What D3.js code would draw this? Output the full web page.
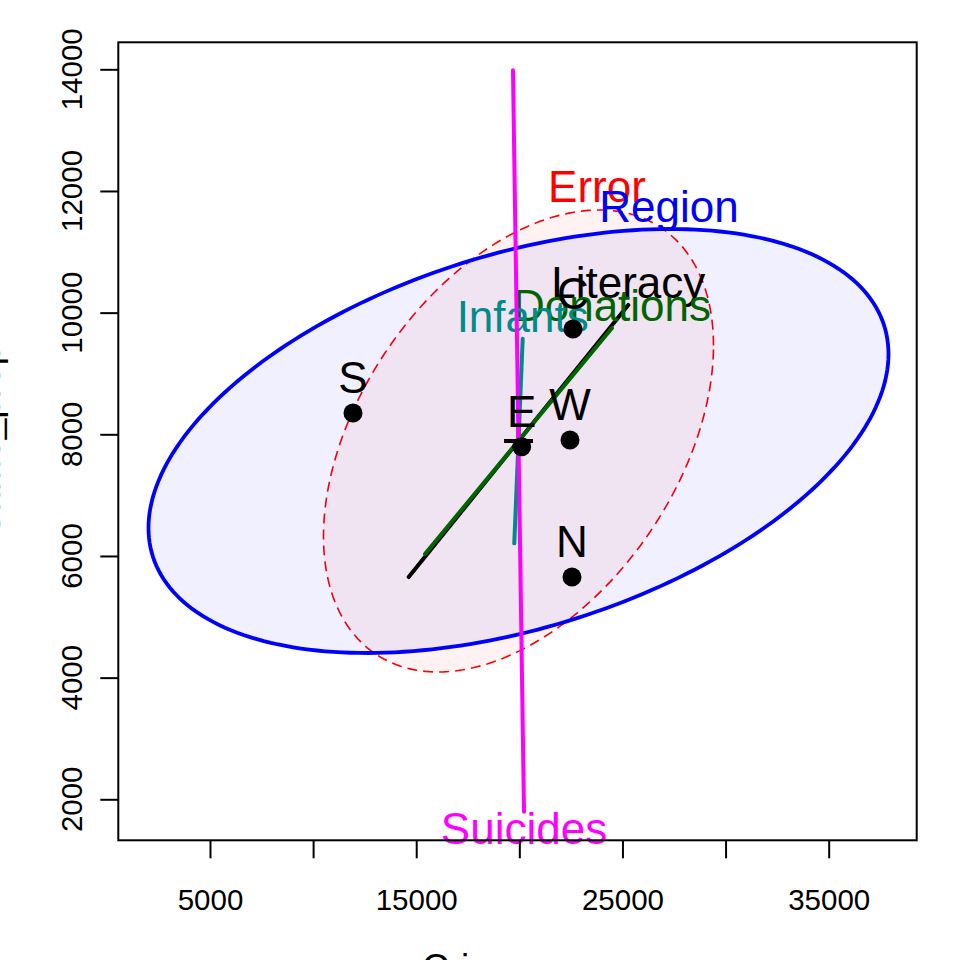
<!DOCTYPE html>
<html>
<head>
<meta charset="utf-8">
<script src="https://cdn.jsdelivr.net/npm/d3@7"></script>
<style>
  html, body { margin: 0; padding: 0; background: #fff; }
  svg { display: block; }
  text { font-family: "Liberation Sans", Arial, Helvetica, sans-serif; }
</style>
</head>
<body>
<svg id="chart" width="960" height="960"></svg>
<script>
// ---------------- data ----------------
const xlim = [554, 39268];
const ylim = [1326, 14444];
const xTicks = [5000, 10000, 15000, 20000, 25000, 30000, 35000];
const xTickLabels = ["5000", "", "15000", "", "25000", "", "35000"];
const yTicks = [2000, 4000, 6000, 8000, 10000, 12000, 14000];
const yTickLabels = ["2000", "4000", "6000", "8000", "10000", "12000", "14000"];
const xTitle = "Crime_pers";
const yTitle = "Crime_prop";

// group means (Region levels)
const groups = ["C", "E", "N", "S", "W"];
const meanCrimePers = [22602, 20114, 22553, 11934, 22456];
const meanCrimeProp = [9731, 7796, 5654, 8350, 7906];
const grandMean = [19959, 7890];

// ellipses (Error, Region): sd x, sd y, correlation
const ellipseNames = ["Error", "Region"];
const ellipseSdX = [9456, 17941];
const ellipseSdY = [3797, 3485];
const ellipseCorr = [0.413, 0.41];
const ellipseColors = ["#FF0000", "#0000FF"];
const ellipseLabelX = [23766, 27257];
const ellipseLabelY = [11819, 11490];

// 1-df terms (degenerate ellipses = lines): half-vector from the grand mean
const lineTerms = ["Literacy", "Donations", "Infants", "Suicides"];
const lineDx = [5324, 4534, 204, 267];
const lineDy = [2236, 1858, 1682, -6094];
const lineColors = ["#000000", "#006400", "#008B8B", "#FF00FF"];

// ---------------- layout ----------------
const box = { left: 118.3, right: 916.7, top: 42.3, bottom: 840.3 };
const svg = d3.select("#chart");
const x = d3.scaleLinear().domain(xlim).range([box.left, box.right]);
const y = d3.scaleLinear().domain(ylim).range([box.bottom, box.top]);

const fontAxis = 29.5, fontLab = 44, fontTitle = 37;

const plot = svg.append("g");

// ellipses
function ellipsePts(i) {
  const sx = ellipseSdX[i], sy = ellipseSdY[i], r = ellipseCorr[i];
  return d3.range(0, 360, 1.5).map(deg => {
    const t = deg * Math.PI / 180, u = Math.cos(t), v = Math.sin(t);
    return [grandMean[0] + sx * u, grandMean[1] + sy * (r * u + Math.sqrt(1 - r * r) * v)];
  });
}
const eline = d3.line().x(d => x(d[0])).y(d => y(d[1])).curve(d3.curveLinearClosed);

// Error
plot.append("path").attr("d", eline(ellipsePts(0)))
  .attr("fill", ellipseColors[0]).attr("fill-opacity", 0.05)
  .attr("stroke", ellipseColors[0]).attr("stroke-width", 1.6)
  .attr("stroke-dasharray", "10,6");
plot.append("text").attr("x", x(ellipseLabelX[0])).attr("y", y(ellipseLabelY[0]))
  .attr("text-anchor", "middle").attr("font-size", fontLab).attr("fill", ellipseColors[0])
  .text(ellipseNames[0]);

// Region
plot.append("path").attr("d", eline(ellipsePts(1)))
  .attr("fill", ellipseColors[1]).attr("fill-opacity", 0.06)
  .attr("stroke", ellipseColors[1]).attr("stroke-width", 3.8);
plot.append("text").attr("x", x(ellipseLabelX[1])).attr("y", y(ellipseLabelY[1]))
  .attr("text-anchor", "middle").attr("font-size", fontLab).attr("fill", ellipseColors[1])
  .text(ellipseNames[1]);

// grand mean "+"
const gx = x(grandMean[0]), gy = y(grandMean[1]);
plot.append("line").attr("x1", gx - 14.5).attr("x2", gx + 14.5).attr("y1", gy).attr("y2", gy)
  .attr("stroke", "#000").attr("stroke-width", 4);
plot.append("line").attr("x1", gx).attr("x2", gx).attr("y1", gy - 14.5).attr("y2", gy + 14.5)
  .attr("stroke", "#000").attr("stroke-width", 4);

// 1-df term lines + labels
lineTerms.forEach((name, i) => {
  const x1 = grandMean[0] - lineDx[i], y1 = grandMean[1] - lineDy[i];
  const x2 = grandMean[0] + lineDx[i], y2 = grandMean[1] + lineDy[i];
  plot.append("line")
    .attr("x1", x(x1)).attr("y1", y(y1)).attr("x2", x(x2)).attr("y2", y(y2))
    .attr("stroke", lineColors[i]).attr("stroke-width", 4).attr("stroke-linecap", "round");
  const ex = x(x2), ey = y(y2);
  const below = lineDy[i] < 0;
  plot.append("text")
    .attr("x", ex).attr("y", below ? ey + 32 : ey - 7)
    .attr("text-anchor", "middle").attr("font-size", fontLab).attr("fill", lineColors[i])
    .text(name);
});

// group means
groups.forEach((g, i) => {
  const px = x(meanCrimePers[i]), py = y(meanCrimeProp[i]);
  plot.append("circle").attr("cx", px).attr("cy", py).attr("r", 9.5).attr("fill", "#000");
  plot.append("text").attr("x", px).attr("y", py - 20)
    .attr("text-anchor", "middle").attr("font-size", fontLab).attr("fill", "#000")
    .text(g);
});

// ---------------- axes ----------------
const xAxis = d3.axisBottom(x).tickValues(xTicks).tickSize(18).tickSizeOuter(0)
  .tickPadding(30.8).tickFormat((d, i) => xTickLabels[i]);
const gxA = svg.append("g").attr("transform", `translate(0,${box.bottom})`).call(xAxis);
gxA.select(".domain").remove();
gxA.selectAll("line").attr("stroke", "#000").attr("stroke-width", 2);
gxA.selectAll("text").attr("font-size", fontAxis).attr("fill", "#000")
  .attr("font-family", "Liberation Sans, Arial, sans-serif");

const yAxis = d3.axisLeft(y).tickValues(yTicks).tickSize(18).tickSizeOuter(0).tickFormat("");
const gyA = svg.append("g").attr("transform", `translate(${box.left},0)`).call(yAxis);
gyA.select(".domain").remove();
gyA.selectAll("line").attr("stroke", "#000").attr("stroke-width", 2);

svg.append("g").selectAll("text").data(yTicks).join("text")
  .attr("transform", (d) => `translate(82,${y(d)}) rotate(-90)`)
  .attr("text-anchor", "middle").attr("font-size", fontAxis).attr("fill", "#000")
  .text((d, i) => yTickLabels[i]);

// box
svg.append("rect").attr("x", box.left).attr("y", box.top)
  .attr("width", box.right - box.left).attr("height", box.bottom - box.top)
  .attr("fill", "none").attr("stroke", "#000").attr("stroke-width", 2);

// axis titles
svg.append("text").attr("x", (box.left + box.right) / 2).attr("y", 980)
  .attr("text-anchor", "middle").attr("font-size", fontTitle).attr("fill", "#000").text(xTitle);
svg.append("text").attr("transform", `translate(0,${(box.top + box.bottom) / 2}) rotate(-90)`)
  .attr("text-anchor", "middle").attr("font-size", fontTitle).attr("fill", "#000").text(yTitle);
</script>
</body>
</html>
